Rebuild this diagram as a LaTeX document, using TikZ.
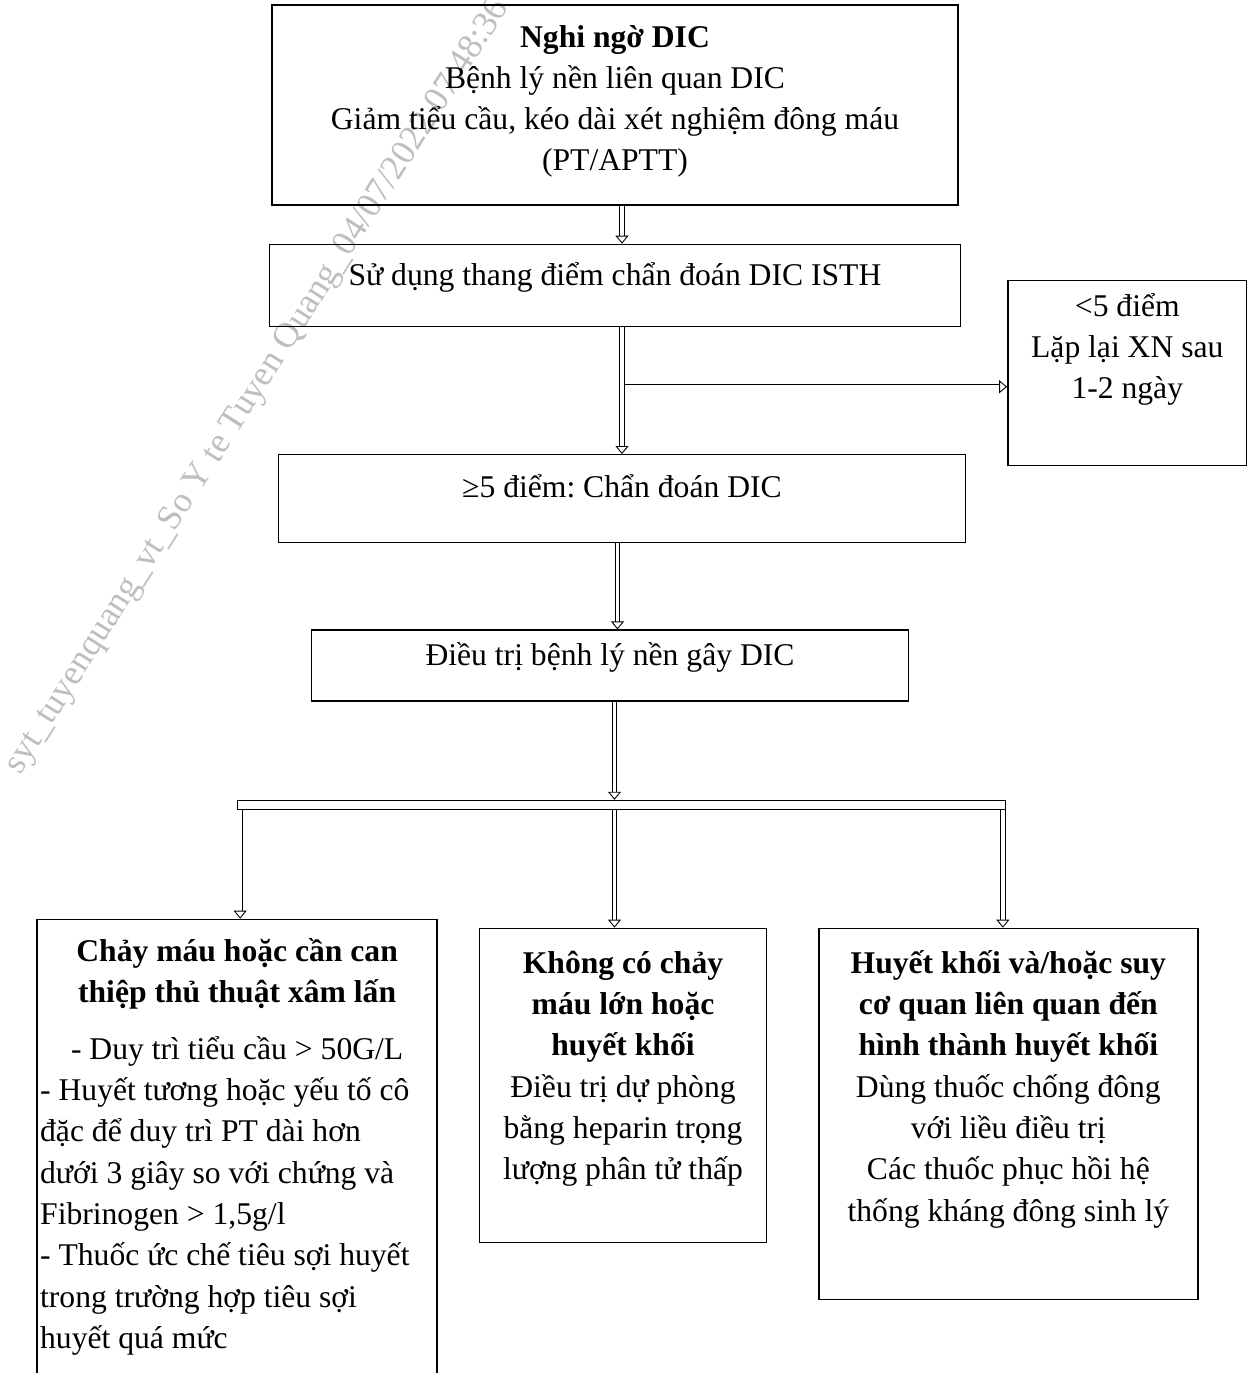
\documentclass[tikz,border=0pt]{standalone}
\usepackage{fontspec}
\setmainfont{Liberation Serif}
\usepackage{tikz}
\usetikzlibrary{arrows.meta,positioning,calc}
\definecolor{WmGray}{RGB}{190,190,190}
\frenchspacing

\begin{document}
\begin{tikzpicture}[x=0.02cm, y=-0.02cm, node distance=0.5cm, font=\fontsize{18}{23.5}\selectfont]
  \tikzstyle{flowbox} = [rectangle, draw=black, line width=0.8pt, inner ysep=0pt, inner xsep=0.06cm, align=flush center]
  \tikzstyle{dblarrow} = [draw=black, line width=0.5pt, double=white, double distance=0.07cm, -{Triangle[open, length=0.16cm, width=0.26cm]}]
  \useasboundingbox (0,0) rectangle (1249,1373);

  \node [rotate=57.5, text=WmGray, font=\fontsize{20.2}{24}\selectfont] (wm) at (258,387) {syt\_tuyenquang\_vt\_So Y te Tuyen Quang\_04/07/2022 07:48:36};

  \node [flowbox, text width=13.6cm, text height=0.84cm, text depth=3.16cm] (suspect) at (615,105) {\textbf{Nghi ngờ DIC}\\Bệnh lý nền liên quan DIC\\Giảm tiểu cầu, kéo dài xét nghiệm đông máu\\(PT/APTT)};
  \node [flowbox, text width=13.7cm, text height=0.82cm, text depth=0.82cm, below=0.76cm of suspect] (isth) {Sử dụng thang điểm chẩn đoán DIC ISTH};
  \node [flowbox, text width=4.66cm, text height=0.72cm, text depth=2.98cm, right=0.92cm of isth, yshift=-1.75cm] (lt5) {<5 điểm\\Lặp lại XN sau\\1-2 ngày};
  \node [flowbox, text width=13.62cm, text height=0.86cm, text depth=0.9cm, below=2.54cm of isth, xshift=0.14cm] (ge5) {≥5 điểm: Chẩn đoán DIC};
  \node [flowbox, text width=11.82cm, text height=0.7cm, text depth=0.72cm, below=1.72cm of ge5, xshift=-0.24cm] (treat) {Điều trị bệnh lý nền gây DIC};
  \node [rectangle, draw=black, line width=0.5pt, inner sep=0pt, minimum width=15.36cm, minimum height=0.18cm, below=1.96cm of treat, xshift=0.23cm] (bar) {};

  \node [flowbox, align=flush left, text width=7.88cm, text height=0.84cm, text depth=8.82cm, below=2.18cm of bar.south west] (bleed) {{\centering{\bfseries Chảy máu hoặc cần can\\thiệp thủ thuật xâm lấn}\\[8.8pt]- Duy trì tiểu cầu > 50G/L\par}- Huyết tương hoặc yếu tố cô\\đặc để duy trì PT dài hơn\\dưới 3 giây so với chứng và\\Fibrinogen > 1,5g/l\\- Thuốc ức chế tiêu sợi huyết\\trong trường hợp tiêu sợi\\huyết quá mức};
  \node [flowbox, text width=5.62cm, text height=0.9cm, text depth=5.38cm, below=2.36cm of bar, xshift=0.03cm] (nobleed) {{\bfseries Không có chảy\\máu lớn hoặc\\huyết khối}\\Điều trị dự phòng\\bằng heparin trọng\\lượng phân tử thấp};
  \node [flowbox, text width=7.46cm, text height=0.9cm, text depth=6.52cm, below=2.36cm of bar.south east, xshift=0.05cm] (clot) {{\bfseries Huyết khối và/hoặc suy\\cơ quan liên quan đến\\hình thành huyết khối}\\Dùng thuốc chống đông\\với liều điều trị\\Các thuốc phục hồi hệ\\thống kháng đông sinh lý};

  \coordinate (spine) at ([xshift=0.14cm]suspect.south);
  \coordinate (fork) at ($(spine |- isth.south)!0.47!(spine |- ge5.north)$);
  \draw [dblarrow] (spine) -- (spine |- isth.north);
  \draw [dblarrow] (spine |- isth.south) -- (spine |- ge5.north);
  \draw [dblarrow] ([xshift=0.06cm]fork) -- (fork -| lt5.west);
  \draw [dblarrow] ([xshift=-0.09cm]ge5.south) -- ([xshift=-0.09cm]ge5.south |- treat.north);
  \draw [dblarrow] ([xshift=0.09cm]treat.south) -- ([xshift=0.09cm]treat.south |- bar.north);
  \draw [dblarrow] ([xshift=0.06cm]bar.south west) -- ([xshift=0.06cm]bar.south west |- bleed.north);
  \draw [dblarrow] ([xshift=-0.14cm]bar.south) -- ([xshift=-0.14cm]bar.south |- nobleed.north);
  \draw [dblarrow] ([xshift=-0.06cm]bar.south east) -- ([xshift=-0.06cm]bar.south east |- clot.north);
\end{tikzpicture}
\end{document}
